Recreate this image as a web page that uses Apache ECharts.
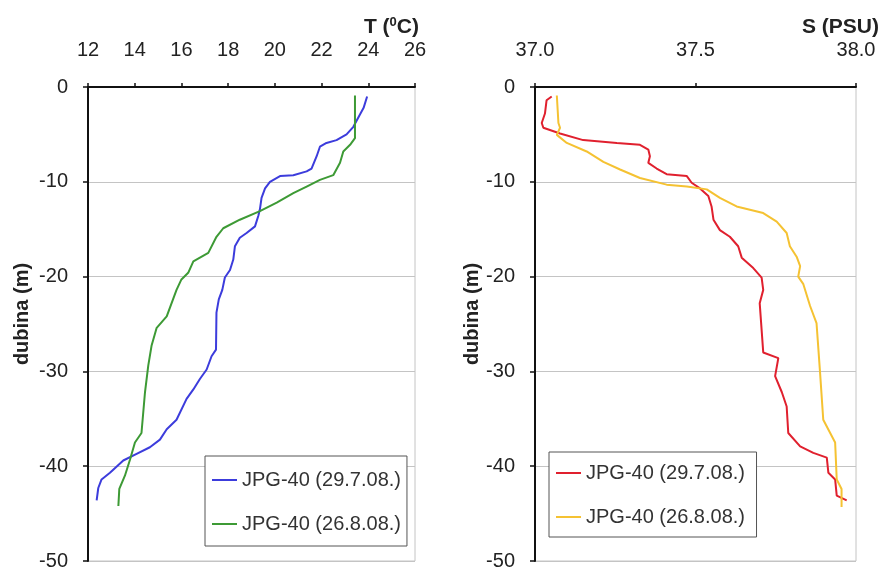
<!DOCTYPE html>
<html>
<head>
<meta charset="utf-8">
<script src="https://cdn.jsdelivr.net/npm/echarts@6/dist/echarts.min.js"></script>
<style>html,body{margin:0;padding:0;background:#fff}#c{width:882px;height:571px}</style>
</head>
<body>
<div id="c"></div>
<script>
// Temperature profiles [T (°C), depth (m)]
var tempJul = [[23.95,-1.0],[23.8,-2.2],[23.62,-3.0],[23.36,-4.2],[23.07,-5.0],[22.64,-5.6],[22.21,-5.9],[21.93,-6.3],[21.79,-7.3],[21.57,-8.6],[21.36,-8.9],[20.79,-9.3],[20.22,-9.4],[19.79,-10.0],[19.58,-10.7],[19.43,-11.7],[19.36,-12.9],[19.29,-13.6],[19.15,-14.7],[18.79,-15.4],[18.5,-15.9],[18.29,-16.8],[18.22,-18.2],[18.08,-19.3],[17.86,-20.1],[17.75,-21.4],[17.6,-22.4],[17.5,-23.8],[17.48,-27.7],[17.29,-28.4],[17.08,-29.8],[16.79,-30.8],[16.51,-31.9],[16.22,-32.9],[15.79,-35.1],[15.37,-36.1],[15.08,-37.2],[14.65,-38.0],[14.08,-38.7],[13.51,-39.4],[12.94,-40.7],[12.58,-41.4],[12.44,-42.3],[12.37,-43.6]];
var tempAug = [[23.43,-0.9],[23.43,-5.4],[23.22,-6.1],[22.93,-6.8],[22.79,-8.0],[22.5,-9.3],[21.93,-9.8],[21.36,-10.5],[20.79,-11.2],[20.08,-12.2],[19.36,-13.1],[18.5,-14.0],[17.79,-14.9],[17.5,-15.8],[17.15,-17.5],[16.51,-18.4],[16.29,-19.6],[16.0,-20.3],[15.79,-21.4],[15.37,-24.2],[14.94,-25.4],[14.72,-27.3],[14.58,-29.4],[14.44,-32.2],[14.29,-36.5],[14.01,-37.5],[13.8,-39.3],[13.58,-41.0],[13.34,-42.4],[13.3,-44.2]];
// Salinity profiles [S (PSU), depth (m)]
var salJul = [[37.052,-1.0],[37.036,-1.4],[37.031,-2.8],[37.021,-3.8],[37.026,-4.3],[37.078,-4.9],[37.15,-5.6],[37.255,-5.9],[37.327,-6.1],[37.353,-6.6],[37.358,-7.3],[37.353,-8.0],[37.379,-8.6],[37.41,-9.2],[37.473,-9.4],[37.488,-10.1],[37.514,-10.7],[37.54,-11.5],[37.55,-12.6],[37.556,-14.0],[37.576,-15.1],[37.607,-15.8],[37.633,-16.8],[37.644,-18.0],[37.68,-19.1],[37.706,-20.1],[37.711,-21.4],[37.70,-22.8],[37.711,-28.0],[37.758,-28.6],[37.748,-30.5],[37.769,-32.2],[37.784,-33.7],[37.789,-36.5],[37.826,-37.9],[37.867,-38.6],[37.909,-39.1],[37.914,-40.7],[37.935,-41.4],[37.94,-43.1],[37.971,-43.6]];
var salAug = [[37.068,-0.9],[37.073,-3.8],[37.078,-4.3],[37.068,-5.05],[37.099,-5.9],[37.161,-6.8],[37.213,-7.9],[37.265,-8.7],[37.327,-9.6],[37.41,-10.3],[37.473,-10.5],[37.535,-10.8],[37.576,-11.7],[37.628,-12.6],[37.711,-13.3],[37.753,-14.2],[37.784,-15.4],[37.794,-16.8],[37.815,-17.9],[37.826,-18.9],[37.82,-20.0],[37.836,-20.8],[37.857,-23.1],[37.877,-24.9],[37.888,-30.1],[37.898,-35.1],[37.935,-37.5],[37.94,-41.4],[37.955,-42.4],[37.955,-44.3]];
var seriesNames = ['JPG-40 (29.7.08.)', 'JPG-40 (26.8.08.)'];
var depthName = 'dubina (m)';

var FONT = 'Liberation Sans, Arial, sans-serif';
var chart = echarts.init(document.getElementById('c'));

function yAx(gi, gap) {
  return {
    type: 'value', gridIndex: gi, min: -50, max: 0, interval: 10,
    name: depthName, nameLocation: 'middle', nameGap: gap, nameRotate: 90,
    nameTextStyle: {fontFamily: FONT, fontSize: 20, fontWeight: 'bold', color: '#222', padding: [0,0,0,20]},
    axisLine: {show: true, onZero: false, lineStyle: {color: '#111', width: 2}},
    axisTick: {show: true, length: 5, lineStyle: {color: '#111', width: 1.5}},
    axisLabel: {margin: 20, fontFamily: FONT, fontSize: 20, color: '#222'},
    splitLine: {show: true, lineStyle: {color: '#c4c4c4', width: 1}}
  };
}
function xAx(gi, min, max, interval, fmt) {
  return {
    type: 'value', gridIndex: gi, position: 'top', min: min, max: max, interval: interval,
    axisLine: {show: true, onZero: false, lineStyle: {color: '#111', width: 2}},
    axisTick: {show: true, length: 4, lineStyle: {color: '#111', width: 1.5}},
    axisLabel: {margin: 27, fontFamily: FONT, fontSize: 20, color: '#222', formatter: fmt},
    splitLine: {show: false}
  };
}
function legendCfg(left, top, pad) {
  return {
    orient: 'vertical', left: left, top: top, padding: pad, itemGap: 24,
    itemWidth: 25, itemHeight: 2, icon: 'rect',
    borderColor: '#555', borderWidth: 1, backgroundColor: '#fff',
    textStyle: {fontFamily: FONT, fontSize: 20, color: '#333', lineHeight: 20}
  };
}
var rich = {
  a: {fontFamily: FONT, fontSize: 21, fontWeight: 'bold', color: '#222'},
  s: {fontFamily: FONT, fontSize: 13, fontWeight: 'bold', color: '#222', verticalAlign: 'top', padding: [0,0,9,0]}
};

chart.setOption({
  animation: false,
  backgroundColor: '#fff',
  title: [
    {text: '{a|T (}{s|0}{a|C)}', right: 882 - 419, top: 16, padding: 0, textStyle: {rich: rich}},
    {text: '{a|S (PSU)}', right: 3, top: 17, padding: 0, textStyle: {rich: rich}}
  ],
  grid: [
    {left: 88, top: 87, width: 327, height: 475, show: true, borderColor: '#c4c4c4', borderWidth: 1},
    {left: 535, top: 87, width: 321, height: 475, show: true, borderColor: '#c4c4c4', borderWidth: 1}
  ],
  xAxis: [
    xAx(0, 12, 26, 2, function (v) { return String(v); }),
    xAx(1, 37, 38, 0.5, function (v) { return v.toFixed(1); })
  ],
  yAxis: [yAx(0, 56), yAx(1, 50)],
  legend: [
    Object.assign(legendCfg(205, 456, [14, 6, 12, 7]), {data: [{name: seriesNames[0]}, {name: seriesNames[1]}], selectedMode: false}),
    Object.assign(legendCfg(549, 452, [11, 6, 10, 7]), {data: [{name: seriesNames[0] + ' '}, {name: seriesNames[1] + ' '}], selectedMode: false})
  ],
  series: [
    {type: 'line', name: seriesNames[0], xAxisIndex: 0, yAxisIndex: 0, data: tempJul, showSymbol: false, symbol: 'none', lineStyle: {color: '#3c3cdc', width: 2}, itemStyle: {color: '#3c3cdc'}},
    {type: 'line', name: seriesNames[1], xAxisIndex: 0, yAxisIndex: 0, data: tempAug, showSymbol: false, symbol: 'none', lineStyle: {color: '#3d9a35', width: 2}, itemStyle: {color: '#3d9a35'}},
    {type: 'line', name: seriesNames[0] + ' ', xAxisIndex: 1, yAxisIndex: 1, data: salJul, showSymbol: false, symbol: 'none', lineStyle: {color: '#e0202e', width: 2}, itemStyle: {color: '#e0202e'}},
    {type: 'line', name: seriesNames[1] + ' ', xAxisIndex: 1, yAxisIndex: 1, data: salAug, showSymbol: false, symbol: 'none', lineStyle: {color: '#f5c232', width: 2}, itemStyle: {color: '#f5c232'}}
  ]
});
</script>
</body>
</html>
